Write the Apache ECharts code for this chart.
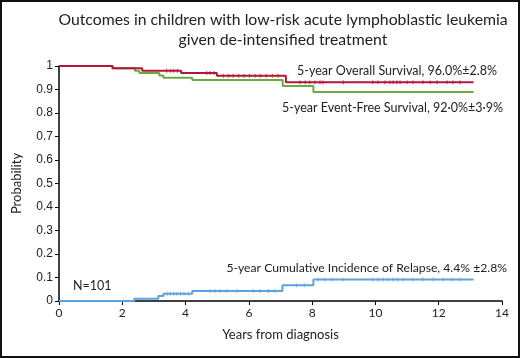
<!DOCTYPE html>
<html>
<head>
<meta charset="utf-8">
<script src="https://cdn.jsdelivr.net/npm/echarts@6/dist/echarts.min.js"></script>
<style>
html,body{margin:0;padding:0;background:#fff;}
#chart{width:520px;height:358px;}
</style>
</head>
<body>
<div id="chart"></div>
<script>
// ---- data ----
const titleLines = ['Outcomes in children with low-risk acute lymphoblastic leukemia', 'given de-intensified treatment'];
const xTicks = [0, 2, 4, 6, 8, 10, 12, 14];
const yTicks = [0, 0.1, 0.2, 0.3, 0.4, 0.5, 0.6, 0.7, 0.8, 0.9, 1];

const osTimes  = [0, 1.69, 2.63, 3.86, 4.99, 7.17, 13.1];
const osValues = [1, 0.99, 0.98, 0.97, 0.958, 0.931, 0.931];
const osCensor = [3.40, 3.53, 3.63, 3.74, 4.67, 4.78, 4.90, 5.19, 5.35, 5.50, 5.68, 5.85, 6.02, 6.20, 6.36, 6.55, 6.74, 6.92,
                  7.62, 7.78, 7.93, 8.09, 8.25, 8.34, 8.98, 9.92, 10.08, 10.30, 10.46, 10.56, 10.68, 10.78, 11.00, 11.19, 11.50, 11.73, 11.95, 12.26, 12.45, 12.67];

const efsTimes  = [0, 1.69, 2.40, 2.54, 3.17, 3.30, 4.21, 7.07, 8.04, 13.1];
const efsValues = [1, 0.99, 0.98, 0.97, 0.96, 0.95, 0.94, 0.915, 0.889, 0.889];

const cirTimes  = [0, 2.38, 3.14, 3.30, 4.21, 7.06, 8.04, 13.1];
const cirValues = [0, 0.01, 0.021, 0.031, 0.043, 0.067, 0.091, 0.091];
const cirCensor = [3.42, 3.52, 3.63, 3.73, 3.84, 3.95, 4.10, 4.77, 4.93, 5.09, 5.30, 5.62, 6.14, 6.35, 6.62, 6.83, 7.50, 7.75,
                   8.19, 8.41, 8.63, 8.98, 9.92, 10.08, 10.24, 10.40, 10.56, 10.71, 10.87, 11.19, 11.50, 11.82, 12.14, 12.42, 12.67];

const labelOS  = '5-year Overall Survival, 96.0%±2.8%';
const labelEFS = '5-year Event-Free Survival, 92·0%±3·9%';
const labelCIR = '5-year Cumulative Incidence of Relapse, 4.4% ±2.8%';
const labelN   = 'N=101';
const xName = 'Years from diagnosis';
const yName = 'Probability';

// ---- build ----
function pairs(t, v) { return t.map((x, i) => [x, v[i]]); }
function stepAt(t, v, x) { let y = v[0]; for (let i = 0; i < t.length; i++) { if (t[i] <= x) y = v[i]; } return y; }
function censorPts(c, t, v) { return c.map(x => [x, stepAt(t, v, x)]); }

const RED = '#b0173a', GREEN = '#6bab3e', BLUE = '#5ba2de';
const chart = echarts.init(document.getElementById('chart'));
const txt = '#222';
const font = 'Lato, "Open Sans", sans-serif';

chart.setOption({
  animation: false,
  grid: { left: 59, right: 18, top: 66, bottom: 57 },
  xAxis: {
    type: 'value', min: 0, max: 14, interval: 2,
    name: xName, nameLocation: 'middle', nameGap: 27,
    nameTextStyle: { fontFamily: font, fontSize: 13, color: txt },
    axisLine: { lineStyle: { color: '#000', width: 1.5 } },
    axisTick: { show: true, length: 4, inside: false, lineStyle: { color: '#000' } },
    axisLabel: { fontFamily: font, fontSize: 12, color: txt, margin: 6 },
    splitLine: { show: false }
  },
  yAxis: {
    type: 'value', min: 0, max: 1, interval: 0.1,
    name: yName, nameLocation: 'middle', nameGap: 36, nameRotate: 90,
    nameTextStyle: { fontFamily: font, fontSize: 13, color: txt },
    axisLine: { show: true, lineStyle: { color: '#000', width: 1.5 } },
    axisTick: { show: true, length: 4, lineStyle: { color: '#000' } },
    axisLabel: { fontFamily: '"Liberation Sans", Arial, sans-serif', fontSize: 12, color: txt, margin: 6,
                 formatter: v => String(Math.round(v * 10) / 10) },
    splitLine: { show: false }
  },
  series: [
    { type: 'line', step: 'end', data: pairs(efsTimes, efsValues), showSymbol: false, symbol: 'none',
      lineStyle: { color: GREEN, width: 2 }, z: 2 },
    { type: 'line', step: 'end', data: pairs(osTimes, osValues), showSymbol: false, symbol: 'none',
      lineStyle: { color: RED, width: 2 }, z: 3 },
    { type: 'line', step: 'end', data: pairs(cirTimes, cirValues), showSymbol: false, symbol: 'none',
      lineStyle: { color: BLUE, width: 2 }, z: 3 },
    { type: 'scatter', data: censorPts(osCensor, osTimes, osValues), symbol: 'rect', symbolSize: [1, 4],
      itemStyle: { color: RED, opacity: 0.8 }, z: 4 },
    { type: 'scatter', data: censorPts(cirCensor, cirTimes, cirValues), symbol: 'rect', symbolSize: [1, 4],
      itemStyle: { color: BLUE, opacity: 0.8 }, z: 4 }
  ],
  graphic: [
    { type: 'rect', shape: { x: 1, y: 1, width: 518, height: 356 }, style: { fill: 'none', stroke: '#111', lineWidth: 2 }, silent: true },
    { type: 'text', x: 283, y: 20, style: { text: titleLines[0], fontFamily: font, fontSize: 15.8, fill: txt, textAlign: 'center', textVerticalAlign: 'middle' } },
    { type: 'text', x: 283, y: 40, style: { text: titleLines[1], fontFamily: font, fontSize: 15.8, fill: txt, textAlign: 'center', textVerticalAlign: 'middle' } },
    { type: 'text', x: 497, y: 71, style: { text: labelOS, fontFamily: font, fontSize: 12.5, fill: txt, textAlign: 'right', textVerticalAlign: 'middle' } },
    { type: 'text', x: 503, y: 108, style: { text: labelEFS, fontFamily: font, fontSize: 12.5, fill: txt, textAlign: 'right', textVerticalAlign: 'middle' } },
    { type: 'text', x: 507, y: 268, style: { text: labelCIR, fontFamily: font, fontSize: 12.2, fill: txt, textAlign: 'right', textVerticalAlign: 'middle' } },
    { type: 'text', x: 73, y: 286, style: { text: labelN, fontFamily: font, fontSize: 12.5, fill: txt, textAlign: 'left', textVerticalAlign: 'middle' } }
  ]
});
</script>
</body>
</html>
